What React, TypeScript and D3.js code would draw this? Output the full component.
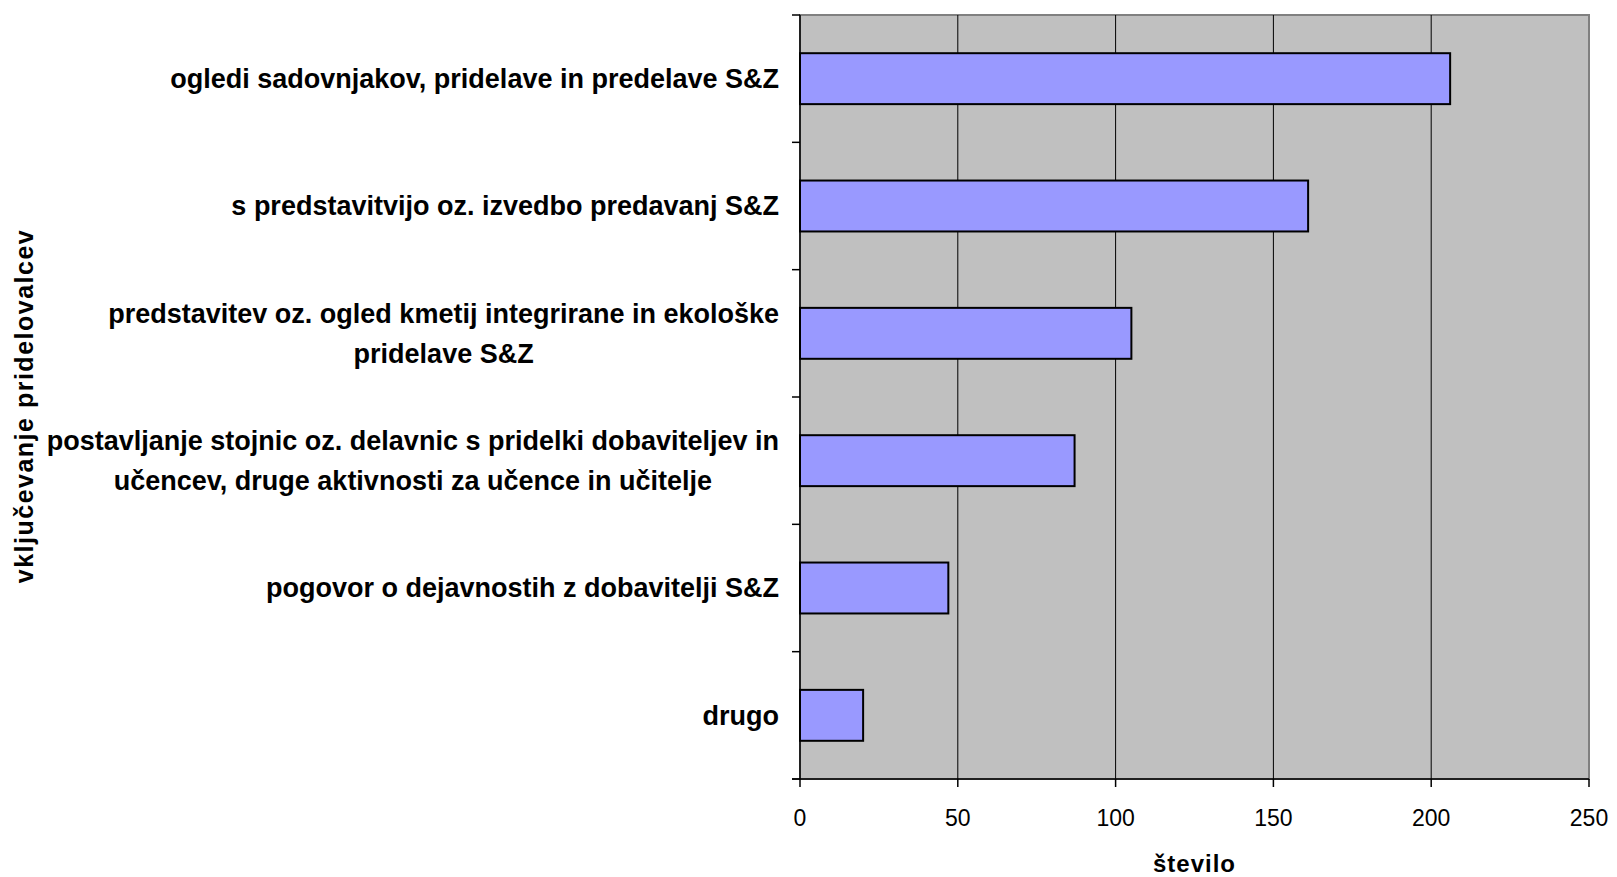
import React, { useEffect, useRef } from "react";
import * as d3 from "d3";

const categories: string[][] = [
  ["ogledi sadovnjakov, pridelave in predelave S&Z"],
  ["s predstavitvijo oz. izvedbo predavanj S&Z"],
  ["predstavitev oz. ogled kmetij integrirane in ekološke", "pridelave S&Z"],
  ["postavljanje stojnic oz. delavnic s pridelki dobaviteljev in", "učencev, druge aktivnosti za učence in učitelje"],
  ["pogovor o dejavnostih z dobavitelji S&Z"],
  ["drugo"],
];
const values: number[] = [206, 161, 105, 87, 47, 20];
const xTicks: number[] = [0, 50, 100, 150, 200, 250];
const xTitle = "število";
const yTitle = "vključevanje pridelovalcev";

const W = 1617;
const H = 877;
const M = { left: 800, right: 28, top: 15, bottom: 98 };

export default function App() {
  const ref = useRef<SVGSVGElement | null>(null);
  useEffect(() => {
    const svg = d3.select(ref.current);
    svg.selectAll("*").remove();
    const iw = W - M.left - M.right;
    const ih = H - M.top - M.bottom;
    const x = d3.scaleLinear().domain([0, 250]).range([M.left, M.left + iw]);
    const y = d3
      .scaleBand<number>()
      .domain(d3.range(categories.length))
      .range([M.top, M.top + ih])
      .paddingInner(0.6)
      .paddingOuter(0.3);
    const step = y.step();

    svg.append("rect").attr("x", M.left).attr("y", M.top).attr("width", iw).attr("height", ih)
      .attr("fill", "#C0C0C0").attr("stroke", "#808080").attr("stroke-width", 2);

    svg.append("g").selectAll("line").data(xTicks.slice(1, -1)).join("line")
      .attr("x1", (d) => x(d)).attr("x2", (d) => x(d))
      .attr("y1", M.top).attr("y2", M.top + ih)
      .attr("stroke", "#000").attr("stroke-width", 1);

    svg.append("g").selectAll("rect").data(values).join("rect")
      .attr("x", x(0)).attr("y", (_d, i) => y(i)!)
      .attr("width", (d) => x(d) - x(0)).attr("height", y.bandwidth())
      .attr("fill", "#9999FF").attr("stroke", "#000").attr("stroke-width", 2);

    svg.append("line").attr("x1", M.left).attr("x2", M.left).attr("y1", M.top).attr("y2", M.top + ih)
      .attr("stroke", "#000").attr("stroke-width", 1.5);
    svg.append("line").attr("x1", M.left - 8).attr("x2", M.left + iw).attr("y1", M.top + ih).attr("y2", M.top + ih)
      .attr("stroke", "#000").attr("stroke-width", 1.5);

    svg.append("g").selectAll("line").data(d3.range(categories.length + 1)).join("line")
      .attr("x1", M.left - 8).attr("x2", M.left)
      .attr("y1", (i) => M.top + i * step).attr("y2", (i) => M.top + i * step)
      .attr("stroke", "#000").attr("stroke-width", 1.5);

    svg.append("g").selectAll("line").data(xTicks).join("line")
      .attr("x1", (d) => x(d)).attr("x2", (d) => x(d))
      .attr("y1", M.top + ih).attr("y2", M.top + ih + 8)
      .attr("stroke", "#000").attr("stroke-width", 1.5);
    svg.append("g").selectAll("text").data(xTicks).join("text")
      .attr("x", (d) => x(d)).attr("y", M.top + ih + 47)
      .attr("text-anchor", "middle")
      .attr("font-family", "Liberation Sans, Arial, sans-serif").attr("font-size", 23)
      .text((d) => String(d));

    const labelRight = 779;
    const lineH = 40;
    categories.forEach((lines, i) => {
      const cy = y(i)! + y.bandwidth() / 2;
      const g = svg.append("g");
      const texts = lines.map((l, j) =>
        g.append("text")
          .attr("y", cy + (j - (lines.length - 1) / 2) * lineH)
          .attr("dy", "0.35em")
          .attr("text-anchor", "middle")
          .attr("font-family", "Liberation Sans, Arial, sans-serif")
          .attr("font-weight", "bold").attr("font-size", 27)
          .text(l)
      );
      const widths = texts.map((t) => (t.node() as SVGTextElement).getComputedTextLength());
      const maxW = Math.max(...widths);
      const cx = labelRight - maxW / 2;
      texts.forEach((t) => t.attr("x", cx));
    });

    svg.append("text").attr("x", M.left + iw / 2).attr("y", H - 5)
      .attr("text-anchor", "middle")
      .attr("font-family", "Liberation Sans, Arial, sans-serif").attr("font-weight", "bold").attr("font-size", 24)
      .attr("letter-spacing", 1)
      .text(xTitle);

    svg.append("text")
      .attr("transform", `translate(24, 406) rotate(-90)`)
      .attr("dy", "0.35em")
      .attr("text-anchor", "middle")
      .attr("font-family", "Liberation Sans, Arial, sans-serif").attr("font-weight", "bold").attr("font-size", 25)
      .attr("letter-spacing", 1.5)
      .text(yTitle);
  }, []);
  return <svg ref={ref} width={W} height={H} style={{ display: "block", position: "absolute", left: 0, top: 0 }} />;
}
